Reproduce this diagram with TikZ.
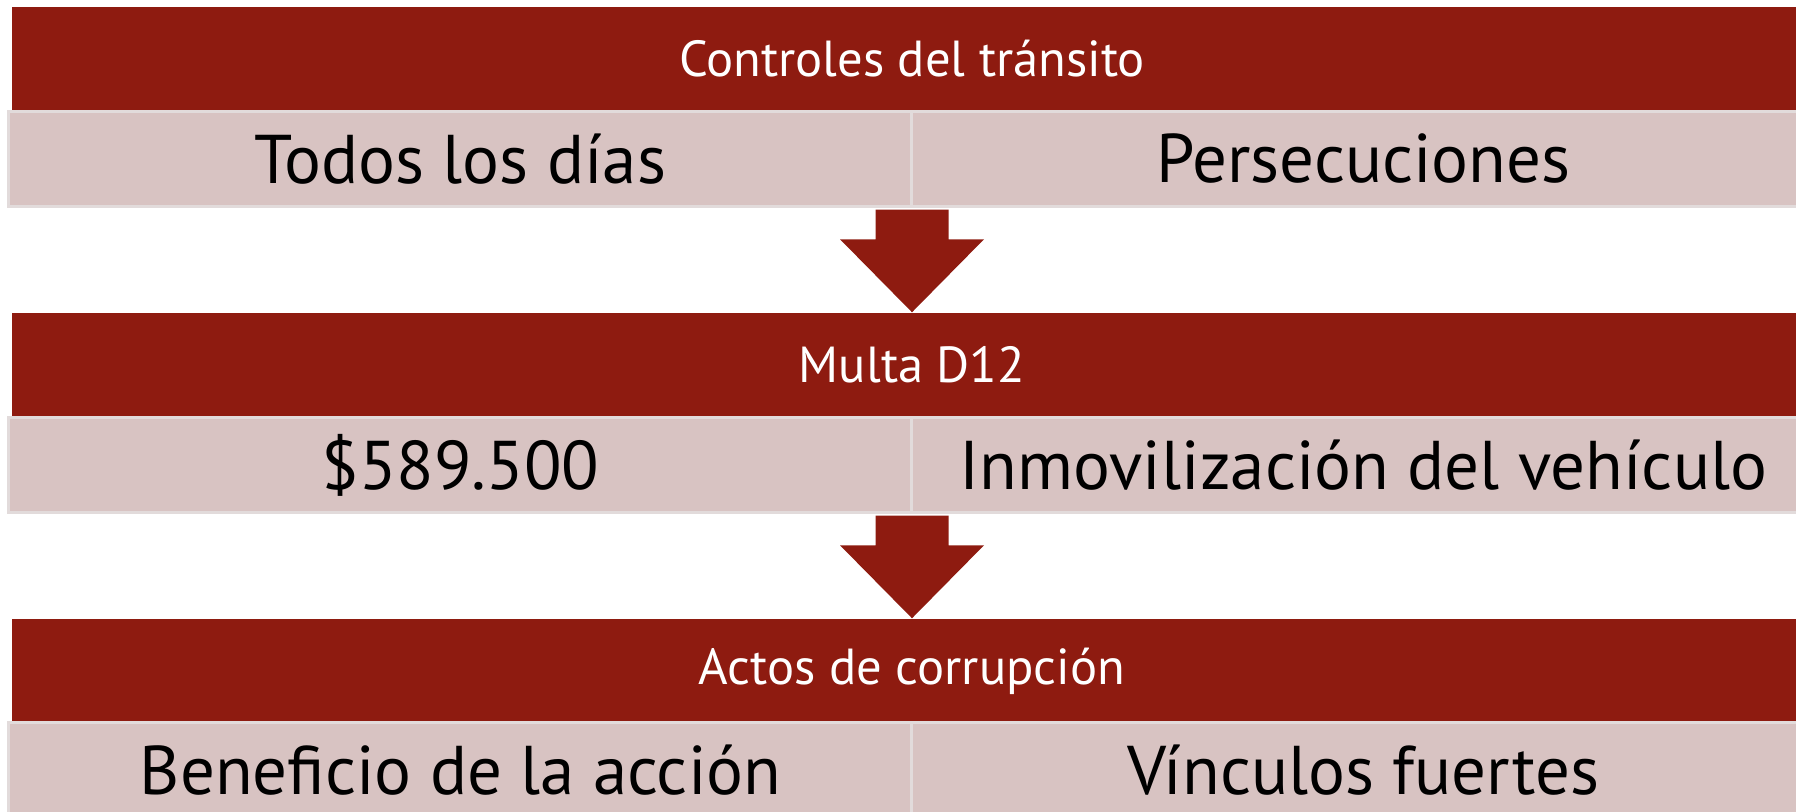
\documentclass[tikz,border=0pt]{standalone}
\usepackage{fontspec}
\setmainfont{PT Sans}
\usetikzlibrary{calc}
\definecolor{bandred}{RGB}{142,27,16}
\definecolor{cellpink}{RGB}{216,195,194}
\definecolor{cellline}{RGB}{226,219,219}

% block arrow from the cell row down to the next header
\newcommand{\bigarrow}[2]{%
  \coordinate (from) at (#1.south -| #2.north);
  \fill[bandred] ($(from)+(-36.5,1.5)$) -- ($(from)+(36.5,1.5)$) -- ($(#2.north)+(36.5,-73)$)
    -- ($(#2.north)+(72,-73)$) -- (#2.north) -- ($(#2.north)+(-72,-73)$)
    -- ($(#2.north)+(-36.5,-73)$) -- cycle;}

\tikzset{
  header/.style={fill=bandred, text=white, minimum width=17.98cm, minimum height=1.04cm,
    inner sep=0pt, font=\fontsize{14.4}{17}\selectfont},
  cell/.style={fill=cellpink, draw=cellline, line width=0.9pt, minimum width=9.03cm,
    minimum height=0.95cm, inner sep=0pt, font=\fontsize{19.6}{24}\selectfont},
}

\begin{document}
\begin{tikzpicture}[x=0.01cm, y=-0.01cm]

        \clip (0,0) rectangle (1796,812);

        \node[header] (hdrA) at (912,59) {Controles del tránsito};
        \node[cell] (diasA) at (460.5,159) {Todos los días};
        \node[cell] (persA) at (1363.5,159) {Persecuciones};

        \node[header] (hdrB) at (912,365) {Multa D12};
        \node[cell] (montoB) at (460.5,465) {\$589.500};
        \node[cell] (inmovB) at (1363.5,465) {Inmovilización del vehículo};

        \node[header] (hdrC) at (912,671) {Actos de corrupción};
        \node[cell] (benefC) at (460.5,770) {Beneficio de la acción};
        \node[cell] (vincC) at (1363.5,770) {Vínculos fuertes};

        \bigarrow{diasA}{hdrB}
        \bigarrow{montoB}{hdrC}

\end{tikzpicture}
\end{document}
